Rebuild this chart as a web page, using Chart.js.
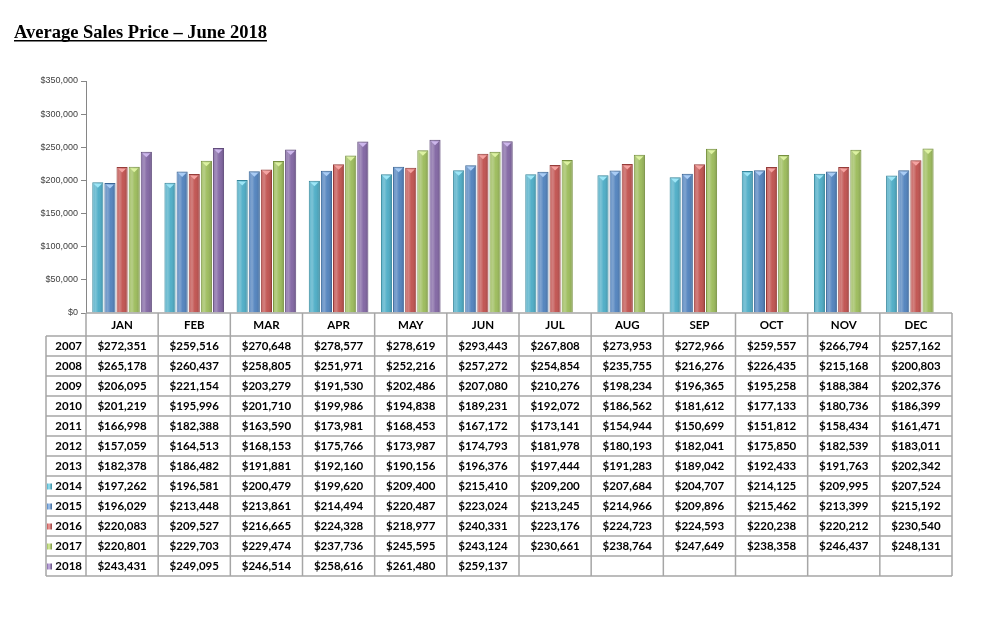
<!DOCTYPE html>
<html>
<head>
<meta charset="utf-8">
<script src="https://cdn.jsdelivr.net/npm/chart.js@4.4.1/dist/chart.umd.min.js"></script>
<style>
html,body{margin:0;padding:0;background:#fff;}
#wrap{position:relative;width:993px;height:623px;}
</style>
</head>
<body>
<div id="wrap"><canvas id="c" width="993" height="623"></canvas></div>
<script>
const titleText = 'Average Sales Price \u2013 June 2018';
const months = ['JAN','FEB','MAR','APR','MAY','JUN','JUL','AUG','SEP','OCT','NOV','DEC'];
const years = ['2007','2008','2009','2010','2011','2012','2013','2014','2015','2016','2017','2018'];
const v2007 = [272351,259516,270648,278577,278619,293443,267808,273953,272966,259557,266794,257162];
const v2008 = [265178,260437,258805,251971,252216,257272,254854,235755,216276,226435,215168,200803];
const v2009 = [206095,221154,203279,191530,202486,207080,210276,198234,196365,195258,188384,202376];
const v2010 = [201219,195996,201710,199986,194838,189231,192072,186562,181612,177133,180736,186399];
const v2011 = [166998,182388,163590,173981,168453,167172,173141,154944,150699,151812,158434,161471];
const v2012 = [157059,164513,168153,175766,173987,174793,181978,180193,182041,175850,182539,183011];
const v2013 = [182378,186482,191881,192160,190156,196376,197444,191283,189042,192433,191763,202342];
const v2014 = [197262,196581,200479,199620,209400,215410,209200,207684,204707,214125,209995,207524];
const v2015 = [196029,213448,213861,214494,220487,223024,213245,214966,209896,215462,213399,215192];
const v2016 = [220083,209527,216665,224328,218977,240331,223176,224723,224593,220238,220212,230540];
const v2017 = [220801,229703,229474,237736,245595,243124,230661,238764,247649,238358,246437,248131];
const v2018 = [243431,249095,246514,258616,261480,259137,null,null,null,null,null,null];
const tableRows = [v2007,v2008,v2009,v2010,v2011,v2012,v2013,v2014,v2015,v2016,v2017,v2018];
const chartedYears = ['2014','2015','2016','2017','2018'];
const chartedSeries = [v2014,v2015,v2016,v2017,v2018];
const seriesColors = ['#4BACC6','#4F81BD','#C0504D','#9BBB59','#8064A2'];
const seriesBorders = ['#35879C','#3A6596','#963C3A','#76903F','#5F4A7A'];
const seriesLight = ['#9DE6F7','#A9CCF5','#F5A3A1','#DDF2A2','#CDB7EC'];
const yMin = 0, yMax = 350000, yStep = 50000;

function fmt(v){ return '$' + v.toLocaleString('en-US'); }

const ROW_TOP = 336, ROW_H = 20, HEADER_TOP = 313, LABEL_LEFT = 46;
const gridCol = '#a6a6a6';
const tableFont = 'bold 11.5px Lato, "Liberation Sans", sans-serif';

const decorPlugin = {
  id: 'decor',
  afterDatasetsDraw(chart){
    const ctx = chart.ctx;
    chart.data.datasets.forEach((ds, di) => {
      const meta = chart.getDatasetMeta(di);
      meta.data.forEach((el, i) => {
        if (ds.data[i] == null) return;
        const p = el.getProps(['x','y','base','width'], true);
        const l = p.x - p.width/2, r = p.x + p.width/2;
        const g = ctx.createLinearGradient(l, 0, r, 0);
        g.addColorStop(0, 'rgba(255,255,255,0.10)');
        g.addColorStop(0.3, 'rgba(255,255,255,0.28)');
        g.addColorStop(0.55, 'rgba(255,255,255,0.05)');
        g.addColorStop(1, 'rgba(0,0,0,0.18)');
        ctx.save();
        ctx.fillStyle = g;
        ctx.fillRect(l+1, p.y+1, p.width-2, p.base - p.y - 1);
        ctx.beginPath();
        ctx.moveTo(l+1.5, p.y+1.5);
        ctx.lineTo(r-1.5, p.y+1.5);
        ctx.lineTo(p.x, p.y+5.5);
        ctx.closePath();
        ctx.fillStyle = seriesLight[di];
        ctx.fill();
        ctx.restore();
      });
    });
  },
  afterDraw(chart){
    const ctx = chart.ctx;
    const xs = chart.scales.x;
    const area = chart.chartArea;
    const colW = (area.right - area.left) / months.length;
    ctx.save();
    // title
    ctx.fillStyle = '#000';
    ctx.font = 'bold 18.5px "Liberation Serif", "DejaVu Serif", serif';
    ctx.textBaseline = 'alphabetic';
    ctx.textAlign = 'left';
    ctx.fillText(titleText, 14, 38);
    const tw = ctx.measureText(titleText).width;
    ctx.fillRect(14, 40, tw, 1.5);

    // table grid
    ctx.strokeStyle = gridCol;
    ctx.lineWidth = 1.5;
    const bottom = ROW_TOP + ROW_H * years.length;
    ctx.beginPath();
    ctx.moveTo(area.left, HEADER_TOP); ctx.lineTo(area.right, HEADER_TOP);
    for (let r = 0; r <= years.length; r++) {
      const y = ROW_TOP + r * ROW_H;
      ctx.moveTo(LABEL_LEFT, y); ctx.lineTo(area.right, y);
    }
    ctx.moveTo(LABEL_LEFT, ROW_TOP); ctx.lineTo(LABEL_LEFT, bottom);
    for (let c = 0; c <= months.length; c++) {
      const x = c < months.length ? xs.getPixelForValue(c) - colW/2 : xs.getPixelForValue(c-1) + colW/2;
      ctx.moveTo(x, HEADER_TOP); ctx.lineTo(x, bottom);
    }
    ctx.stroke();

    // header text
    ctx.font = tableFont;
    ctx.fillStyle = '#000';
    ctx.textAlign = 'center';
    ctx.textBaseline = 'middle';
    months.forEach((m, i) => ctx.fillText(m, xs.getPixelForValue(i), HEADER_TOP + 12));
    // rows
    years.forEach((yr, r) => {
      const cy = ROW_TOP + r * ROW_H + ROW_H/2 + 0.5;
      ctx.textAlign = 'right';
      ctx.fillStyle = '#000';
      ctx.fillText(yr, area.left - 4, cy);
      const si = chartedYears.indexOf(yr);
      if (si >= 0) {
        const sx = area.left - 39, sy = cy - 3;
        const g = ctx.createLinearGradient(sx, 0, sx+5, 0);
        g.addColorStop(0, seriesColors[si]);
        g.addColorStop(0.4, seriesLight[si]);
        g.addColorStop(1, seriesBorders[si]);
        ctx.fillStyle = g;
        ctx.fillRect(sx, sy, 5, 6);
        ctx.fillStyle = '#000';
      }
      ctx.textAlign = 'center';
      tableRows[r].forEach((v, i) => {
        if (v == null) return;
        ctx.fillText(fmt(v), xs.getPixelForValue(i), cy);
      });
    });
    ctx.restore();
  }
};

new Chart(document.getElementById('c'), {
  type: 'bar',
  data: {
    labels: months,
    datasets: chartedYears.map((yr, i) => ({
      label: yr,
      data: chartedSeries[i],
      backgroundColor: seriesColors[i],
      borderColor: seriesBorders[i],
      borderWidth: 1,
      categoryPercentage: 0.84,
      barPercentage: 0.92
    }))
  },
  options: {
    responsive: false,
    animation: false,
    devicePixelRatio: 1,
    layout: { padding: { left: 0, right: 41, top: 81, bottom: 310 } },
    plugins: { legend: { display: false }, tooltip: { enabled: false }, title: { display: false } },
    scales: {
      x: { display: false, offset: true },
      y: {
        min: yMin, max: yMax,
        ticks: {
          stepSize: yStep,
          padding: 3,
          color: '#404040',
          font: { family: '"Liberation Sans", Arial, sans-serif', size: 9 },
          callback: v => '$' + Number(v).toLocaleString('en-US')
        },
        grid: { display: true, drawOnChartArea: false, tickLength: 5, color: '#868686' },
        border: { display: true, color: '#868686', width: 1 },
        afterFit(scale){ scale.width = 86; }
      }
    }
  },
  plugins: [decorPlugin]
});
</script>
</body>
</html>
